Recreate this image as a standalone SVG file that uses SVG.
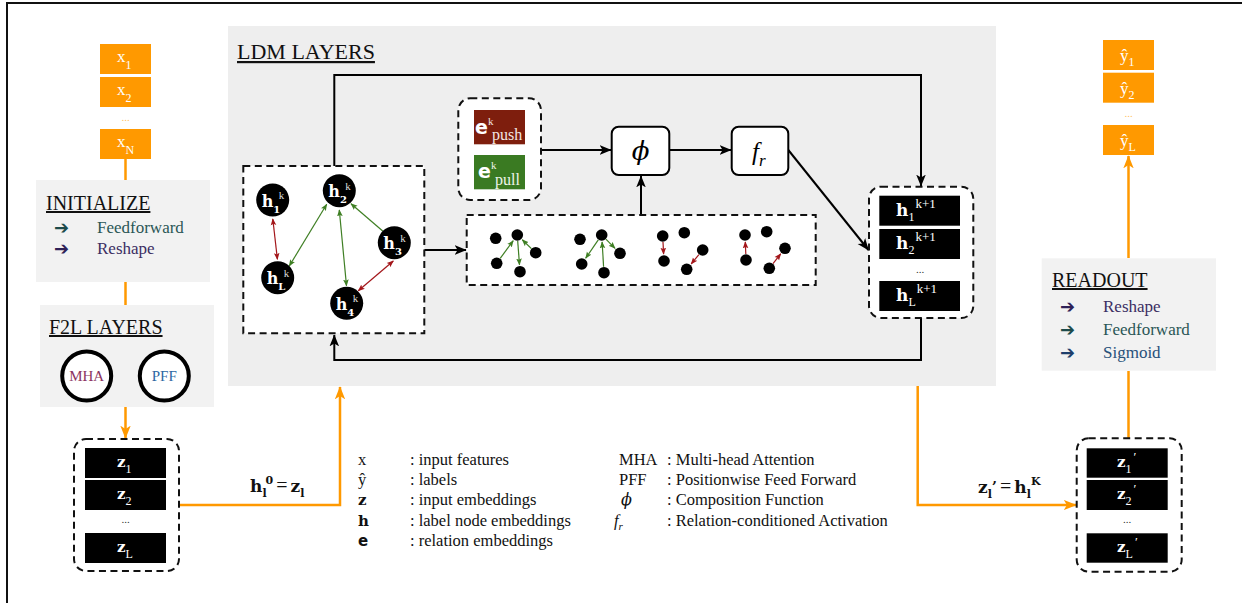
<svg xmlns="http://www.w3.org/2000/svg" width="1242" height="603" viewBox="0 0 1242 603">
  <style>
    .serif { font-family: "Liberation Serif", "Times New Roman", Tinos, "Noto Serif", "DejaVu Serif", serif; }
    .slab { font-family: "DejaVu Serif", serif; }
    .ttl { font-family: "Liberation Serif", "Times New Roman", Tinos, "Noto Serif", "DejaVu Serif", serif; font-size: 20px; fill: #111; text-decoration: underline; }
    .item { font-family: "Liberation Serif", "Times New Roman", Tinos, "Noto Serif", "DejaVu Serif", serif; font-size: 17px; }
    .arw { font-family: "DejaVu Sans", sans-serif; font-size: 18px; font-weight: bold; }
    .panel { fill: #F2F2F2; }
    .orange { fill: #FF9900; }
    .blk { fill: #000; }
    .dash { fill: #fff; stroke: #111; stroke-width: 2; stroke-dasharray: 7 4.5; }
    .wlab { fill: #fff; }
    .dots { font-family: "Liberation Serif", "DejaVu Serif", serif; font-size: 11px; text-anchor: middle; }
    .wire { fill: none; stroke: #000; stroke-width: 2; }
    .owire { fill: none; stroke: #FF9900; stroke-width: 2.5; }
    .g-edge { stroke: #3F7F24; stroke-width: 1.2; fill: none; }
    .r-edge { stroke: #A3161A; stroke-width: 1.2; fill: none; }
    .leg { font-family: "Liberation Serif", "Times New Roman", Tinos, "Noto Serif", "DejaVu Serif", serif; font-size: 16.5px; fill: #111; }
    .op { fill: #fff; stroke: #000; stroke-width: 2; }
  </style>
  <defs>
    <marker id="ah" viewBox="0 0 10 10" refX="9.5" refY="5" markerWidth="12" markerHeight="12" markerUnits="userSpaceOnUse" orient="auto">
      <path d="M0,1 L10,5 L0,9 L2.5,5 z" fill="#000"/>
    </marker>
    <marker id="ao" viewBox="0 0 10 10" refX="9.5" refY="5" markerWidth="13" markerHeight="13" markerUnits="userSpaceOnUse" orient="auto">
      <path d="M0,1 L10,5 L0,9 L2.5,5 z" fill="#FF9900"/>
    </marker>
    <marker id="ag" viewBox="0 0 10 10" refX="9" refY="5" markerWidth="7" markerHeight="7" markerUnits="userSpaceOnUse" orient="auto-start-reverse">
      <path d="M0,1 L10,5 L0,9 L2,5 z" fill="#3F7F24"/>
    </marker>
    <marker id="ar" viewBox="0 0 10 10" refX="9" refY="5" markerWidth="7" markerHeight="7" markerUnits="userSpaceOnUse" orient="auto-start-reverse">
      <path d="M0,1 L10,5 L0,9 L2,5 z" fill="#A3161A"/>
    </marker>
  </defs>

  <!-- frame -->
  <path d="M7,603 V3 H1242" fill="none" stroke="#111" stroke-width="2"/>

  <!-- panels (drawn first so wires sit on them) -->
  <rect id="ldm-panel" x="228" y="26" width="768" height="360" fill="#EEEEEE"/>

  <!-- connectors -->
  <g id="connectors">
    <!-- orange data flow -->
    <line class="owire" x1="125.5" y1="159" x2="125.5" y2="180"/>
    <line class="owire" x1="125.5" y1="282" x2="125.5" y2="305"/>
    <line class="owire" x1="125.5" y1="407" x2="125.5" y2="438" marker-end="url(#ao)"/>
    <path class="owire" d="M179,505 H340 V387" marker-end="url(#ao)"/>
    <path class="owire" d="M917.7,386 V505 H1076" marker-end="url(#ao)"/>
    <line class="owire" x1="1128.5" y1="371" x2="1128.5" y2="438"/>
    <line class="owire" x1="1128.5" y1="258" x2="1128.5" y2="156" marker-end="url(#ao)"/>
    <!-- black LDM loop -->
    <path class="wire" d="M334.3,166 V75 H921 V186" marker-end="url(#ah)"/>
    <path class="wire" d="M921,318 V360 H334.3 V335" marker-end="url(#ah)"/>
    <line class="wire" x1="424.3" y1="250" x2="466" y2="250" marker-end="url(#ah)"/>
    <line class="wire" x1="541" y1="150" x2="611" y2="150" marker-end="url(#ah)"/>
    <line class="wire" x1="669.3" y1="150" x2="731" y2="150" marker-end="url(#ah)"/>
    <line class="wire" x1="641" y1="215" x2="641" y2="176" marker-end="url(#ah)"/>
    <line class="wire" x1="788.3" y1="150" x2="868.5" y2="250" marker-end="url(#ah)"/>
  </g>

  <!-- input features -->
  <g id="inputs">
    <rect class="orange" x="100" y="44" width="51" height="30"/>
    <rect class="orange" x="100" y="77" width="51" height="30"/>
    <rect class="orange" x="100" y="129" width="51" height="30"/>
    <text class="serif wlab" x="117" y="62" font-size="17">x<tspan font-size="12" dy="7">1</tspan></text>
    <text class="serif wlab" x="117" y="95" font-size="17">x<tspan font-size="12" dy="7">2</tspan></text>
    <text class="dots" x="125.5" y="121" fill="#FFC266">...</text>
    <text class="serif wlab" x="117" y="147" font-size="17">x<tspan font-size="12" dy="7">N</tspan></text>
  </g>

  <!-- initialize block -->
  <g id="initialize">
    <rect class="panel" x="36" y="180" width="174" height="102"/>
    <text class="ttl" x="46" y="210">INITIALIZE</text>
    <text class="arw" x="54" y="234" fill="#1D4B4B">➔</text>
    <text class="item" x="97" y="233" fill="#2A5656">Feedforward</text>
    <text class="arw" x="54" y="255" fill="#2E2157">➔</text>
    <text class="item" x="97" y="254" fill="#3B2E63">Reshape</text>
  </g>

  <!-- F2L layers -->
  <g id="f2l">
    <rect class="panel" x="40" y="305" width="174" height="102"/>
    <text class="ttl" x="49" y="334">F2L LAYERS</text>
    <circle cx="86.7" cy="376" r="24.5" fill="#fff" stroke="#000" stroke-width="4"/>
    <circle cx="164.3" cy="376" r="24.5" fill="#fff" stroke="#000" stroke-width="4"/>
    <text class="serif" x="86.7" y="381" font-size="15" text-anchor="middle" fill="#8B3560">MHA</text>
    <text class="serif" x="164.3" y="381" font-size="15" text-anchor="middle" fill="#2E68A3">PFF</text>
  </g>

  <!-- input embeddings -->
  <g id="z-block">
    <rect class="dash" x="74" y="439" width="105" height="132" rx="12"/>
    <rect class="blk" x="85" y="448" width="81" height="30"/>
    <rect class="blk" x="85" y="480" width="81" height="30"/>
    <rect class="blk" x="85" y="533" width="81" height="30"/>
    <text class="slab wlab" x="117" y="467" font-size="15" font-weight="bold">z<tspan class="serif" font-weight="normal" font-size="12" dy="6">1</tspan></text>
    <text class="slab wlab" x="117" y="499" font-size="15" font-weight="bold">z<tspan class="serif" font-weight="normal" font-size="12" dy="6">2</tspan></text>
    <text class="dots" x="125.5" y="523" fill="#333">...</text>
    <text class="slab wlab" x="117" y="552" font-size="15" font-weight="bold">z<tspan class="serif" font-weight="normal" font-size="12" dy="6">L</tspan></text>
  </g>

  <text id="eq-in" class="slab" x="250" y="492" font-size="17" font-weight="bold" fill="#111">h<tspan font-size="11" dy="5">l</tspan><tspan font-size="11" dx="-1" dy="-13">0</tspan><tspan class="serif" font-weight="normal" font-size="20" dx="3" dy="8">=</tspan><tspan dx="3">z</tspan><tspan font-size="11" dy="5">l</tspan></text>

  <!-- LDM layers -->
  <g id="ldm">
    <text class="ttl" x="237" y="59" style="font-size:22px">LDM LAYERS</text>

    <g id="label-graph">
      <rect class="dash" x="243.3" y="166" width="181" height="167.3"/>
      <line class="r-edge" x1="272.8" y1="219" x2="277.4" y2="259.3" marker-start="url(#ar)" marker-end="url(#ar)"/>
      <line class="g-edge" x1="326.7" y1="204.3" x2="289.3" y2="266" marker-start="url(#ag)" marker-end="url(#ag)"/>
      <line class="g-edge" x1="339.3" y1="210" x2="346.5" y2="285.7" marker-start="url(#ag)" marker-end="url(#ag)"/>
      <line class="g-edge" x1="382.7" y1="231" x2="351" y2="203.7" marker-end="url(#ag)"/>
      <line class="r-edge" x1="393.3" y1="261" x2="358.3" y2="290.7" marker-start="url(#ar)" marker-end="url(#ar)"/>

      <g id="node-h1" transform="translate(272.7,200)">
        <circle r="16.5" fill="#000"/>
        <text class="slab wlab" x="-11" y="6.5" font-size="16" font-weight="bold">h<tspan font-size="10" dy="6">1</tspan></text>
        <text class="serif" x="6" y="-1" font-size="11" fill="#ddd">k</text>
      </g>
      <g id="node-h2" transform="translate(339.3,190.7)">
        <circle r="16.5" fill="#000"/>
        <text class="slab wlab" x="-11" y="6.5" font-size="16" font-weight="bold">h<tspan font-size="10" dy="6">2</tspan></text>
        <text class="serif" x="6" y="-1" font-size="11" fill="#ddd">k</text>
      </g>
      <g id="node-h3" transform="translate(394.3,242.7)">
        <circle r="16.5" fill="#000"/>
        <text class="slab wlab" x="-11" y="6.5" font-size="16" font-weight="bold">h<tspan font-size="10" dy="6">3</tspan></text>
        <text class="serif" x="6" y="-1" font-size="11" fill="#ddd">k</text>
      </g>
      <g id="node-hL" transform="translate(277.7,277.7)">
        <circle r="16.5" fill="#000"/>
        <text class="slab wlab" x="-11" y="6.5" font-size="16" font-weight="bold">h<tspan font-size="10" dy="6">L</tspan></text>
        <text class="serif" x="6" y="-1" font-size="11" fill="#ddd">k</text>
      </g>
      <g id="node-h4" transform="translate(346.7,303.3)">
        <circle r="16.5" fill="#000"/>
        <text class="slab wlab" x="-11" y="6.5" font-size="16" font-weight="bold">h<tspan font-size="10" dy="6">4</tspan></text>
        <text class="serif" x="6" y="-1" font-size="11" fill="#ddd">k</text>
      </g>
    </g>

    <g id="relation-patterns">
      <rect class="dash" x="466.7" y="215" width="349" height="70"/>
      <g fill="#000">
        <circle cx="495.7" cy="238.3" r="5.8"/><circle cx="517.3" cy="235" r="5.8"/><circle cx="535.7" cy="252.7" r="5.8"/><circle cx="496.7" cy="263.3" r="5.8"/><circle cx="520" cy="271.7" r="5.8"/>
        <circle cx="580" cy="239.3" r="5.8"/><circle cx="601.7" cy="235" r="5.8"/><circle cx="620" cy="253.3" r="5.8"/><circle cx="581.7" cy="264" r="5.8"/><circle cx="604" cy="272.7" r="5.8"/>
        <circle cx="662.7" cy="236" r="5.8"/><circle cx="684.3" cy="232.7" r="5.8"/><circle cx="702.7" cy="250" r="5.8"/><circle cx="664" cy="261" r="5.8"/><circle cx="686.7" cy="269.3" r="5.8"/>
        <circle cx="745" cy="235" r="5.8"/><circle cx="766.7" cy="231.7" r="5.8"/><circle cx="785" cy="248.3" r="5.8"/><circle cx="746" cy="260" r="5.8"/><circle cx="769.3" cy="268.3" r="5.8"/>
      </g>
      <line class="g-edge" x1="500.2" y1="258.4" x2="513.2" y2="240.7" marker-end="url(#ag)"/>
      <line class="g-edge" x1="517.7" y1="241" x2="519.5" y2="264.7" marker-end="url(#ag)"/>
      <line class="g-edge" x1="531.4" y1="248.6" x2="522.3" y2="239.8" marker-end="url(#ag)"/>
      <line class="g-edge" x1="598.3" y1="239.9" x2="585.7" y2="258.2" marker-end="url(#ag)"/>
      <line class="g-edge" x1="603.6" y1="266.7" x2="602.1" y2="242" marker-end="url(#ag)"/>
      <line class="g-edge" x1="605.9" y1="239.2" x2="615" y2="248.3" marker-end="url(#ag)"/>
      <line class="r-edge" x1="663" y1="242" x2="663.6" y2="254" marker-end="url(#ar)"/>
      <line class="r-edge" x1="698.9" y1="254.6" x2="691.2" y2="263.9" marker-end="url(#ar)"/>
      <line class="r-edge" x1="745.8" y1="254" x2="745.3" y2="242" marker-end="url(#ar)"/>
      <line class="r-edge" x1="773" y1="263.6" x2="780.7" y2="253.8" marker-end="url(#ar)"/>
    </g>

    <g id="relation-embeddings">
      <rect class="dash" x="458.3" y="98.3" width="82.7" height="101.7" rx="12"/>
      <rect x="474" y="110" width="51" height="34.3" fill="#7E1E0D"/>
      <rect x="474" y="155" width="51" height="34.3" fill="#3A7A22"/>
      <text class="wlab" x="475" y="134" font-family="DejaVu Sans, sans-serif" font-size="19" font-weight="bold">e</text>
      <text class="serif" x="488" y="125" font-size="11" fill="#f3e6e3">k</text>
      <text class="serif" x="492" y="140" font-size="16" fill="#f3e6e3">push</text>
      <text class="wlab" x="478" y="178" font-family="DejaVu Sans, sans-serif" font-size="19" font-weight="bold">e</text>
      <text class="serif" x="491" y="169" font-size="11" fill="#eef4ea">k</text>
      <text class="serif" x="495" y="185" font-size="16" fill="#eef4ea">pull</text>
    </g>

    <g id="phi">
      <rect class="op" x="611.7" y="126.7" width="57.6" height="48.3" rx="7"/>
      <text x="640.5" y="160" font-family="DejaVu Serif, serif" font-style="italic" font-size="26" text-anchor="middle" fill="#000">ϕ</text>
    </g>
    <g id="f-r">
      <rect class="op" x="731.7" y="126.7" width="56.6" height="48.3" rx="7"/>
      <text class="serif" x="752" y="160" font-size="25" font-style="italic" fill="#000">f<tspan font-size="17" dy="6">r</tspan></text>
    </g>

    <g id="h-next">
      <rect class="dash" x="869" y="186.7" width="104.3" height="131.3" rx="12"/>
      <rect class="blk" x="879.3" y="195.7" width="80.7" height="30"/>
      <rect class="blk" x="879.3" y="229" width="80.7" height="30"/>
      <rect class="blk" x="879.3" y="281" width="80.7" height="30"/>
      <text class="slab wlab" x="896" y="216" font-size="17" font-weight="bold">h<tspan class="serif" font-weight="normal" font-size="12" dy="5">1</tspan><tspan class="serif" font-weight="normal" font-size="13" dx="1" dy="-13">k+1</tspan></text>
      <text class="slab wlab" x="896" y="249" font-size="17" font-weight="bold">h<tspan class="serif" font-weight="normal" font-size="12" dy="5">2</tspan><tspan class="serif" font-weight="normal" font-size="13" dx="1" dy="-13">k+1</tspan></text>
      <text class="dots" x="920" y="273" fill="#333">...</text>
      <text class="slab wlab" x="896" y="301" font-size="17" font-weight="bold">h<tspan class="serif" font-weight="normal" font-size="12" dy="5">L</tspan><tspan class="serif" font-weight="normal" font-size="13" dx="1" dy="-13">k+1</tspan></text>
    </g>
  </g>

  <!-- outputs -->
  <g id="outputs">
    <rect class="orange" x="1103" y="40" width="51" height="30"/>
    <rect class="orange" x="1103" y="72.7" width="51" height="30"/>
    <rect class="orange" x="1103" y="125" width="51" height="30"/>
    <text class="serif wlab" x="1120" y="61" font-size="17">ŷ<tspan font-size="12" dy="5">1</tspan></text>
    <text class="serif wlab" x="1120" y="94" font-size="17">ŷ<tspan font-size="12" dy="5">2</tspan></text>
    <text class="dots" x="1128.5" y="117" fill="#FFC266">...</text>
    <text class="serif wlab" x="1120" y="146" font-size="17">ŷ<tspan font-size="12" dy="5">L</tspan></text>
  </g>

  <!-- readout block -->
  <g id="readout">
    <rect class="panel" x="1041.7" y="258.3" width="174.3" height="112.4"/>
    <text class="ttl" x="1052" y="287">READOUT</text>
    <text class="arw" x="1060" y="313" fill="#2E2157">➔</text>
    <text class="item" x="1103" y="312" fill="#3B2E63">Reshape</text>
    <text class="arw" x="1060" y="336" fill="#1D4B4B">➔</text>
    <text class="item" x="1103" y="335" fill="#2A5656">Feedforward</text>
    <text class="arw" x="1060" y="359" fill="#1F3F6B">➔</text>
    <text class="item" x="1103" y="358" fill="#27507A">Sigmoid</text>
  </g>

  <!-- output embeddings -->
  <g id="z-out">
    <rect class="dash" x="1076.7" y="438.3" width="105" height="133.4" rx="12"/>
    <rect class="blk" x="1086.7" y="448.3" width="81" height="29.4"/>
    <rect class="blk" x="1086.7" y="480" width="81" height="30"/>
    <rect class="blk" x="1086.7" y="533.3" width="81" height="29.4"/>
    <text class="slab wlab" x="1117" y="467" font-size="15" font-weight="bold">z<tspan class="serif" font-weight="normal" font-size="12" dy="6">1</tspan><tspan class="serif" font-weight="normal" font-size="13" dx="2" dy="-12">′</tspan></text>
    <text class="slab wlab" x="1117" y="499" font-size="15" font-weight="bold">z<tspan class="serif" font-weight="normal" font-size="12" dy="6">2</tspan><tspan class="serif" font-weight="normal" font-size="13" dx="2" dy="-12">′</tspan></text>
    <text class="dots" x="1127" y="523" fill="#333">...</text>
    <text class="slab wlab" x="1117" y="552" font-size="15" font-weight="bold">z<tspan class="serif" font-weight="normal" font-size="12" dy="6">L</tspan><tspan class="serif" font-weight="normal" font-size="13" dx="2" dy="-12">′</tspan></text>
  </g>

  <text id="eq-out" class="slab" x="978" y="493" font-size="17" font-weight="bold" fill="#111">z<tspan font-size="11" dy="5">l</tspan><tspan font-size="15" dy="-6">’</tspan><tspan class="serif" font-weight="normal" font-size="20" dx="3" dy="1">=</tspan><tspan dx="3">h</tspan><tspan font-size="11" dy="5">l</tspan><tspan font-size="11" dy="-13">K</tspan></text>

  <!-- legend -->
  <g id="legend" class="leg">
    <text x="358" y="465">x</text><text x="410" y="465">: input features</text>
    <text x="358" y="485">ŷ</text><text x="410" y="485">: labels</text>
    <text x="358" y="505" class="slab" font-weight="bold" font-size="15">z</text><text x="410" y="505">: input embeddings</text>
    <text x="358" y="526" class="slab" font-weight="bold" font-size="15">h</text><text x="410" y="526">: label node embeddings</text>
    <text x="358" y="546" font-family="DejaVu Sans, sans-serif" font-weight="bold" font-size="15">e</text><text x="410" y="546">: relation embeddings</text>
    <text x="619" y="465">MHA</text><text x="667" y="465">: Multi-head Attention</text>
    <text x="619" y="485">PFF</text><text x="667" y="485">: Positionwise Feed Forward</text>
    <text x="621" y="505" font-family="DejaVu Serif, serif" font-style="italic" font-size="16">ϕ</text><text x="667" y="505">: Composition Function</text>
    <text x="614" y="526" font-style="italic">f<tspan font-size="11" dy="4">r</tspan></text><text x="667" y="526">: Relation-conditioned Activation</text>
  </g>
</svg>
